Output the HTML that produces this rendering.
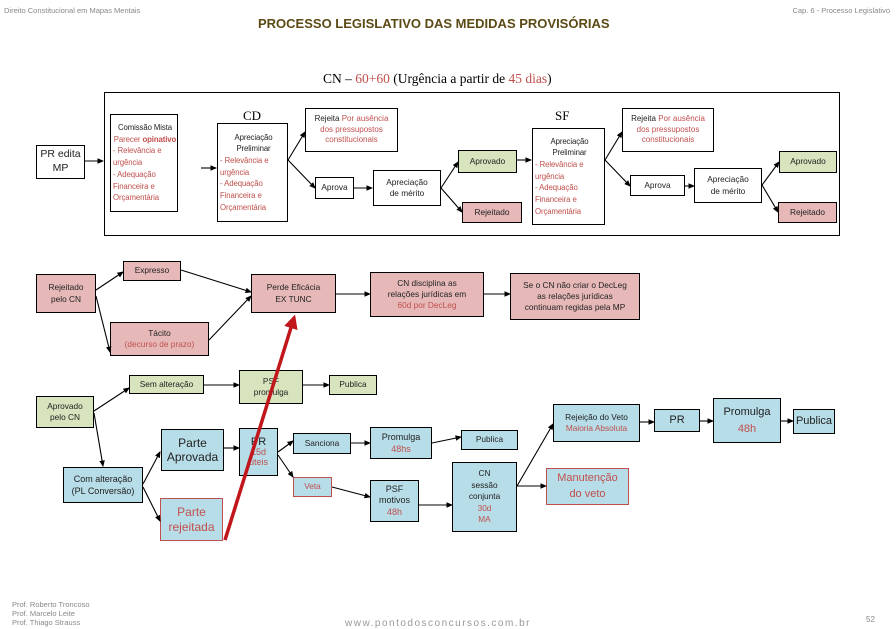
<!DOCTYPE html>
<html><head><meta charset="utf-8"><style>
body{margin:0;width:896px;height:624px;overflow:hidden;background:#fff;position:relative;font-family:"Liberation Sans",sans-serif;}
.b{position:absolute;border:1.3px solid #000;box-sizing:border-box;display:flex;flex-direction:column;justify-content:center;align-items:center;text-align:center;font-size:8.3px;line-height:1.35;color:#222;}
.g{background:#d7e4bd}.p{background:#e6b9b8}.bl{background:#b7dde8}
.r{color:#c0504d}
.l{align-items:stretch;text-align:left;padding-left:2px;font-size:7.8px;letter-spacing:-0.1px}
.c{text-align:center}
.t{position:absolute;white-space:nowrap}
svg{position:absolute;left:0;top:0}
</style></head><body>
<div class="t" style="left:4px;top:6px;font-size:7.5px;color:#888">Direito Constitucional em Mapas Mentais</div>
<div class="t" style="right:6px;top:6px;font-size:7.5px;color:#888">Cap. 6 - Processo Legislativo</div>
<div class="t" style="left:258px;top:16px;font-size:13px;font-weight:bold;color:#5b4a14">PROCESSO LEGISLATIVO DAS MEDIDAS PROVISÓRIAS</div>
<div class="t" style="left:323px;top:71px;font-size:13.5px;font-family:'Liberation Serif',serif">CN – <span class="r">60+60</span> (Urgência a partir de <span class="r">45 dias</span>)</div>

<div style="position:absolute;left:104px;top:92px;width:736px;height:144px;border:1.3px solid #000;box-sizing:border-box"></div>
<div class="t" style="left:243px;top:108px;font-size:13px;font-family:'Liberation Serif',serif">CD</div>
<div class="t" style="left:555px;top:108px;font-size:13px;font-family:'Liberation Serif',serif">SF</div>

<div class="b" style="left:36px;top:145px;width:49px;height:34px;font-size:10.5px;line-height:1.3">PR edita<br>MP</div>
<div class="b l" style="left:110px;top:114px;width:68px;height:98px;line-height:1.5">
<div class="c">Comissão Mista</div><div class="r c">Parecer <b>opinativo</b></div><div class="r">- Relevância e<br>urgência<br>- Adequação<br>Financeira e<br>Orçamentária</div></div>
<div class="b l" style="left:217px;top:123px;width:71px;height:99px;line-height:1.5">
<div class="c">Apreciação<br>Preliminar</div><div class="r">- Relevância e<br>urgência<br>- Adequação<br>Financeira e<br>Orçamentária</div></div>
<div class="b" style="left:305px;top:108px;width:93px;height:44px;font-size:8px"><div>Rejeita <span class="r">Por ausência</span></div><span class="r">dos pressupostos<br>constitucionais</span></div>
<div class="b" style="left:315px;top:177px;width:39px;height:22px">Aprova</div>
<div class="b" style="left:373px;top:170px;width:68px;height:36px">Apreciação<br>de mérito</div>
<div class="b g" style="left:458px;top:150px;width:59px;height:23px">Aprovado</div>
<div class="b p" style="left:462px;top:202px;width:60px;height:21px">Rejeitado</div>
<div class="b l" style="left:532px;top:128px;width:73px;height:97px;line-height:1.5">
<div class="c">Apreciação<br>Preliminar</div><div class="r">- Relevância e<br>urgência<br>- Adequação<br>Financeira e<br>Orçamentária</div></div>
<div class="b" style="left:622px;top:108px;width:92px;height:44px;font-size:8px"><div>Rejeita <span class="r">Por ausência</span></div><span class="r">dos pressupostos<br>constitucionais</span></div>
<div class="b" style="left:630px;top:175px;width:55px;height:21px">Aprova</div>
<div class="b" style="left:694px;top:168px;width:68px;height:35px">Apreciação<br>de mérito</div>
<div class="b g" style="left:779px;top:151px;width:58px;height:22px">Aprovado</div>
<div class="b p" style="left:778px;top:202px;width:59px;height:21px">Rejeitado</div>

<div class="b p" style="left:36px;top:274px;width:60px;height:39px">Rejeitado<br>pelo CN</div>
<div class="b p" style="left:123px;top:261px;width:58px;height:20px">Expresso</div>
<div class="b p" style="left:110px;top:322px;width:99px;height:34px">Tácito<br><span class="r">(decurso de prazo)</span></div>
<div class="b p" style="left:251px;top:274px;width:85px;height:39px">Perde Eficácia<br>EX TUNC</div>
<div class="b p" style="left:370px;top:272px;width:114px;height:45px">CN disciplina as<br>relações jurídicas em<br><span class="r">60d por DecLeg</span></div>
<div class="b p" style="left:510px;top:273px;width:130px;height:47px">Se o CN não criar o DecLeg<br>as relações jurídicas<br>continuam regidas pela MP</div>

<div class="b g" style="left:36px;top:396px;width:58px;height:32px">Aprovado<br>pelo CN</div>
<div class="b g" style="left:129px;top:375px;width:75px;height:19px">Sem alteração</div>
<div class="b g" style="left:239px;top:370px;width:64px;height:34px">PSF<br>promulga</div>
<div class="b g" style="left:329px;top:375px;width:48px;height:20px">Publica</div>
<div class="b bl" style="left:63px;top:467px;width:80px;height:36px;font-size:9px">Com alteração<br>(PL Conversão)</div>
<div class="b bl" style="left:161px;top:429px;width:63px;height:42px;font-size:12px;line-height:1.2">Parte<br>Aprovada</div>
<div class="b bl" style="left:160px;top:498px;width:63px;height:43px;font-size:12px;line-height:1.2;border-color:#c0504d;color:#c0504d">Parte<br>rejeitada</div>
<div class="b bl" style="left:239px;top:428px;width:39px;height:48px;font-size:11px;line-height:1.1">PR<br><span class="r" style="font-size:9px">15d<br>úteis</span></div>
<div class="b bl" style="left:293px;top:433px;width:58px;height:21px">Sanciona</div>
<div class="b bl r" style="left:293px;top:477px;width:39px;height:20px;border-color:#c0504d">Veta</div>
<div class="b bl" style="left:370px;top:427px;width:62px;height:32px;font-size:9px">Promulga<br><span class="r">48hs</span></div>
<div class="b bl" style="left:370px;top:480px;width:49px;height:42px;font-size:9px;line-height:1.25">PSF<br>motivos<br><span class="r">48h</span></div>
<div class="b bl" style="left:461px;top:430px;width:57px;height:20px">Publica</div>
<div class="b bl" style="left:452px;top:462px;width:65px;height:70px;line-height:1.4">CN<br>sessão<br>conjunta<br><span class="r">30d<br>MA</span></div>
<div class="b bl" style="left:553px;top:404px;width:87px;height:38px">Rejeição do Veto<br><span class="r">Maioria Absoluta</span></div>
<div class="b bl r" style="left:546px;top:468px;width:83px;height:37px;font-size:11px;border-color:#c0504d;line-height:1.4">Manutenção<br>do veto</div>
<div class="b bl" style="left:654px;top:409px;width:46px;height:23px;font-size:11px">PR</div>
<div class="b bl" style="left:713px;top:398px;width:68px;height:45px;font-size:11px;line-height:1.5">Promulga<br><span class="r">48h</span></div>
<div class="b bl" style="left:793px;top:409px;width:42px;height:25px;font-size:11px">Publica</div>

<svg width="896" height="624">
<defs><marker id="a" markerWidth="6" markerHeight="6" refX="5" refY="3" orient="auto"><path d="M0,0.5 L6,3 L0,5.5z" fill="#000"/></marker>
<marker id="rr" markerWidth="4" markerHeight="4" refX="3" refY="2" orient="auto"><path d="M0,0 L4,2 L0,4z" fill="#c0161c"/></marker></defs>
<g stroke="#000" stroke-width="1.1" fill="none" marker-end="url(#a)">
<line x1="85" y1="161" x2="103" y2="161"/>
<line x1="201" y1="168" x2="216" y2="168"/>
<line x1="288" y1="160" x2="305" y2="132"/>
<line x1="288" y1="160" x2="315" y2="188"/>
<line x1="354" y1="188" x2="372" y2="188"/>
<line x1="441" y1="188" x2="458" y2="162"/>
<line x1="441" y1="188" x2="462" y2="212"/>
<line x1="517" y1="160" x2="531" y2="160"/>
<line x1="605" y1="160" x2="622" y2="132"/>
<line x1="605" y1="160" x2="630" y2="186"/>
<line x1="685" y1="186" x2="694" y2="186"/>
<line x1="762" y1="185" x2="779" y2="162"/>
<line x1="762" y1="185" x2="778" y2="212"/>
<line x1="96" y1="290" x2="123" y2="272"/>
<line x1="96" y1="296" x2="110" y2="352"/>
<line x1="181" y1="270" x2="251" y2="292"/>
<line x1="209" y1="340" x2="251" y2="296"/>
<line x1="336" y1="294" x2="370" y2="294"/>
<line x1="484" y1="294" x2="510" y2="294"/>
<line x1="94" y1="411" x2="129" y2="388"/>
<line x1="94" y1="413" x2="103" y2="466"/>
<line x1="204" y1="385" x2="239" y2="385"/>
<line x1="303" y1="385" x2="329" y2="385"/>
<line x1="143" y1="484" x2="160" y2="452"/>
<line x1="143" y1="487" x2="160" y2="521"/>
<line x1="224" y1="448" x2="239" y2="448"/>
<line x1="278" y1="452" x2="293" y2="441"/>
<line x1="278" y1="455" x2="293" y2="477"/>
<line x1="351" y1="443" x2="370" y2="443"/>
<line x1="432" y1="443" x2="461" y2="437"/>
<line x1="332" y1="487" x2="370" y2="497"/>
<line x1="419" y1="505" x2="452" y2="505"/>
<line x1="517" y1="486" x2="553" y2="424"/>
<line x1="517" y1="486" x2="546" y2="486"/>
<line x1="640" y1="422" x2="654" y2="422"/>
<line x1="700" y1="421" x2="713" y2="421"/>
<line x1="781" y1="421" x2="793" y2="421"/>
</g>
<line x1="225" y1="540" x2="294" y2="318" stroke="#c0161c" stroke-width="3.5" marker-end="url(#rr)"/>
</svg>

<div class="t" style="left:12px;top:600px;font-size:7.5px;color:#888;line-height:9px">Prof. Roberto Troncoso<br>Prof. Marcelo Leite<br>Prof. Thiago Strauss</div>
<div class="t" style="left:345px;top:618px;font-size:10px;color:#999;letter-spacing:1.5px">www.pontodosconcursos.com.br</div>
<div class="t" style="left:866px;top:615px;font-size:8px;color:#888">52</div>
</body></html>
